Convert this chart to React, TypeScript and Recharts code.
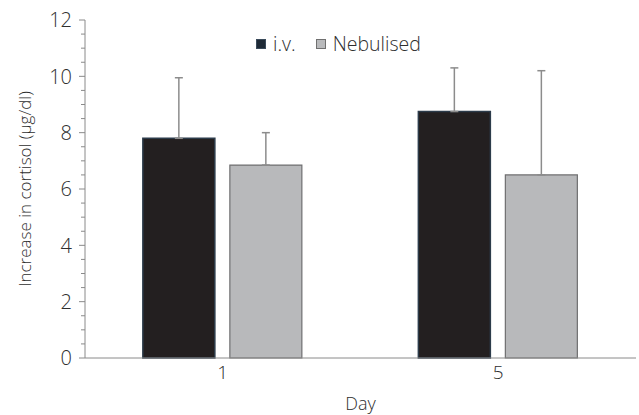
import { Bar, BarChart, ErrorBar, Legend, XAxis, YAxis } from "recharts"

const days = ["1", "5"]
const ivValues = [7.8, 8.75]
const nebValues = [6.85, 6.5]
const ivErrors = [2.15, 1.55]
const nebErrors = [1.15, 3.7]
const yTicks = [0, 0.5, 1, 1.5, 2, 2.5, 3, 3.5, 4, 4.5, 5, 5.5, 6, 6.5, 7, 7.5, 8, 8.5, 9, 9.5, 10, 10.5, 11, 11.5, 12]

const data = days.map((day, i) => ({
  day,
  iv: ivValues[i],
  neb: nebValues[i],
  ivErr: [0, ivErrors[i]],
  nebErr: [0, nebErrors[i]],
}))

const FONT = "'Open Sans', 'Noto Sans', sans-serif"
const TEXT = "#2e2e2e"
const AXIS = "#8a8a8a"

function YTick(props: any) {
  const { x, y, payload } = props
  const major = payload.value % 2 === 0
  return (
    <g>
      <line x1={x - (major ? 6 : 4)} x2={x} y1={y} y2={y} stroke={AXIS} strokeWidth={1} />
      {major && (
        <text
          x={x - 13}
          y={y}
          dy="0.36em"
          textAnchor="end"
          fill={TEXT}
          fontSize={20}
          fontWeight={300}
          fontFamily={FONT}
        >
          {payload.value}
        </text>
      )}
    </g>
  )
}

function LegendContent() {
  const item = (color: string, border: string, label: string, gap: number) => (
    <span style={{ display: "inline-flex", alignItems: "center", marginRight: gap }}>
      <span
        style={{
          width: 8,
          height: 8,
          background: color,
          border: `1px solid ${border}`,
          marginRight: 7,
          display: "inline-block",
        }}
      />
      <span style={{ fontSize: 19.5, fontWeight: 300, color: TEXT, fontFamily: FONT, lineHeight: "20px" }}>
        {label}
      </span>
    </span>
  )
  return (
    <div style={{ display: "flex", alignItems: "center" }}>
      {item("#1f2a36", "#3a4a5a", "i.v.", 20)}
      {item("#b9babc", "#707070", "Nebulised", 0)}
    </div>
  )
}

export default function App() {
  return (
    <div style={{ position: "absolute", left: 0, top: 0, background: "#fff" }}>
      <BarChart
        width={639}
        height={415}
        data={data}
        margin={{ top: 20, right: 3, bottom: 0, left: 0 }}
        barCategoryGap="21%"
        barGap={15}
      >
        <XAxis
          dataKey="day"
          height={57}
          tickLine={false}
          axisLine={{ stroke: AXIS }}
          tick={{ fill: TEXT, fontSize: 19, fontWeight: 300, fontFamily: FONT }}
          label={{
            value: "Day",
            position: "insideBottom",
            offset: 5,
            fill: TEXT,
            fontSize: 18,
            fontWeight: 300,
            fontFamily: FONT,
          }}
        />
        <YAxis
          width={85}
          domain={[0, 12]}
          ticks={yTicks}
          interval={0}
          tickSize={0}
          tickMargin={0}
          tickLine={false}
          axisLine={{ stroke: AXIS }}
          tick={<YTick />}
          label={{
            value: "Increase in cortisol (µg/dl)",
            angle: -90,
            position: "center",
            dx: -18,
            fill: TEXT,
            fontSize: 17,
            fontWeight: 300,
            fontFamily: FONT,
          }}
        />
        <Legend
          verticalAlign="middle"
          align="center"
          content={<LegendContent />}
          wrapperStyle={{ top: 34, left: 256, width: "auto" }}
        />
        <Bar dataKey="iv" name="i.v." fill="#231f20" stroke="#2c3b4a" strokeWidth={1.5} isAnimationActive={false}>
          <ErrorBar dataKey="ivErr" width={4} stroke="#8c8c8c" strokeWidth={1.5} direction="y" />
        </Bar>
        <Bar dataKey="neb" name="Nebulised" fill="#b8b9bb" stroke="#6f6f70" strokeWidth={1.2} isAnimationActive={false}>
          <ErrorBar dataKey="nebErr" width={4} stroke="#8c8c8c" strokeWidth={1.5} direction="y" />
        </Bar>
      </BarChart>
    </div>
  )
}
